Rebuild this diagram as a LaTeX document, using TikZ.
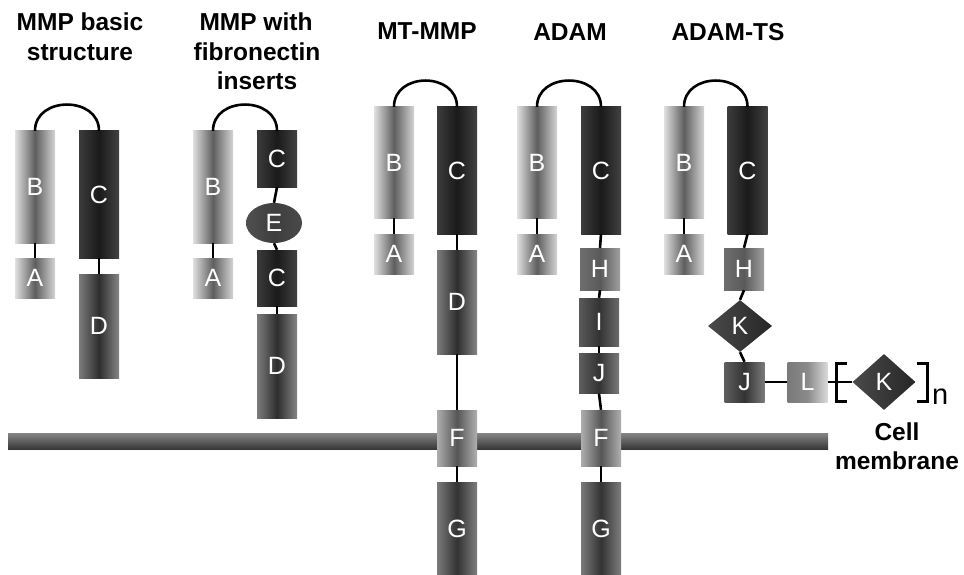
\documentclass[tikz,border=0pt]{standalone}
\usepackage{fontspec}
\setmainfont{Liberation Sans}
\usetikzlibrary{shapes.geometric}
% grey tones of the domain shadings (left edge / core / right edge)
\definecolor{bL}{HTML}{E0E0E0}\definecolor{bM}{HTML}{5E5E5E}\definecolor{bR}{HTML}{D4D4D4}
\definecolor{cL}{HTML}{3C3C3C}\definecolor{cM}{HTML}{1A1A1A}\definecolor{cR}{HTML}{424242}
\definecolor{dL}{HTML}{7C7C7C}\definecolor{dM}{HTML}{2E2E2E}\definecolor{dR}{HTML}{858585}
\definecolor{fL}{HTML}{ADADAD}\definecolor{fM}{HTML}{565656}\definecolor{fR}{HTML}{B0B0B0}
\definecolor{gL}{HTML}{7A7A7A}\definecolor{gM}{HTML}{333333}\definecolor{gR}{HTML}{7E7E7E}
\definecolor{hL}{HTML}{6E6E6E}\definecolor{hM}{HTML}{5A5A5A}\definecolor{hR}{HTML}{A0A0A0}
\definecolor{iL}{HTML}{5A5A5A}\definecolor{iM}{HTML}{333333}\definecolor{iR}{HTML}{6A6A6A}
\definecolor{jL}{HTML}{5E5E5E}\definecolor{jM}{HTML}{333333}\definecolor{jR}{HTML}{7A7A7A}
\definecolor{lL}{HTML}{7A7A7A}\definecolor{lM}{HTML}{8A8A8A}\definecolor{lR}{HTML}{DADADA}
\definecolor{kL}{HTML}{4A4A4A}\definecolor{kR}{HTML}{262626}
\definecolor{eL}{HTML}{505050}\definecolor{eM}{HTML}{3E3E3E}\definecolor{eR}{HTML}{4A4A4A}
\definecolor{memT}{HTML}{858585}\definecolor{memB}{HTML}{383838}
\begin{document}
\begin{tikzpicture}[x=1pt,y=-1pt,
  dom/.style={rectangle, inner sep=0pt, minimum width=40pt, text=white,
    font=\fontsize{25}{25}\selectfont},
  kdom/.style={diamond, inner sep=0pt, text=white, left color=kL, right color=kR,
    font=\fontsize{25}{25}\selectfont},
  edom/.style={ellipse, inner sep=0pt, minimum width=56pt, minimum height=40pt, text=white,
    left color=eL, right color=eR, middle color=eM, font=\fontsize{25}{25}\selectfont},
  shB/.style={left color=bL, right color=bR, middle color=bM},
  shC/.style={left color=cL, right color=cR, middle color=cM},
  shD/.style={left color=dL, right color=dR, middle color=dM},
  shF/.style={left color=fL, right color=fR, middle color=fM},
  shG/.style={left color=gL, right color=gR, middle color=gM},
  shH/.style={left color=hL, right color=hR, middle color=hM},
  shI/.style={left color=iL, right color=iR, middle color=iM},
  shJ/.style={left color=jL, right color=jR, middle color=jM},
  shL/.style={left color=lL, right color=lR, middle color=lM},
  link/.style={line width=2.6pt, black},
  hinge/.style={line width=2.6pt, black},
  title/.style={font=\bfseries\fontsize{24.5}{29}\selectfont, anchor=base, inner sep=0pt},
]
\useasboundingbox (0,0) rectangle (964,575);

% cell membrane
\node[rectangle, inner sep=0pt, minimum width=820pt, minimum height=16pt,
  top color=memT, bottom color=memB] (mem) at (418,441) {};

% titles
\node[title] (t1a) at (80,31) {MMP basic};
\node[title] (t1b) at (80,61) {structure};
\node[title] (t2a) at (256,31) {MMP with};
\node[title] (t2b) at (257,61) {fibronectin};
\node[title] (t2c) at (257,90) {inserts};
\node[title] (t3) at (427,40) {MT-MMP};
\node[title] (t4) at (570,41) {ADAM};
\node[title] (t5) at (728,41) {ADAM-TS};
\node[title] (t6a) at (897,440) {Cell};
\node[title] (t6b) at (897,469) {membrane};

% MMP basic structure
\node[dom, shB, minimum height=112pt] (b1) at (35,187) {B};
\node[dom, shB, minimum height=40pt] (a1) at (35,278) {A};
\node[dom, shC, minimum height=127pt] (c1) at (99,194.5) {C};
\node[dom, shD, minimum height=104pt] (d1) at (99,326) {D};

% MMP with fibronectin inserts
\node[dom, shB, minimum height=112pt] (b2) at (213,187) {B};
\node[dom, shB, minimum height=40pt] (a2) at (213,278) {A};
\node[dom, shC, minimum height=56pt] (c2a) at (277,159) {C};
\node[edom] (e2) at (274,223) {E};
\node[dom, shC, minimum height=56pt] (c2b) at (277,278) {C};
\node[dom, shD, minimum height=104pt] (d2) at (277,366) {D};

% MT-MMP
\node[dom, shB, minimum height=111pt] (b3) at (394,162.5) {B};
\node[dom, shB, minimum height=40pt] (a3) at (394,254) {A};
\node[dom, shC, minimum height=127pt] (c3) at (457,170.5) {C};
\node[dom, shD, minimum height=104pt] (d3) at (457,302) {D};
\node[dom, shF, minimum height=56pt] (f3) at (457,438) {F};
\node[dom, shG, minimum height=93pt] (g3) at (457,528.5) {G};

% ADAM
\node[dom, shB, minimum height=111pt] (b4) at (537,162.5) {B};
\node[dom, shB, minimum height=40pt] (a4) at (537,254) {A};
\node[dom, shC, minimum height=127pt] (c4) at (601,170.5) {C};
\node[dom, shH, minimum height=42pt] (h4) at (600,269) {H};
\node[dom, shI, minimum height=48pt] (i4) at (599,322) {I};
\node[dom, shJ, minimum height=40pt] (j4) at (599,373.5) {J};
\node[dom, shF, minimum height=56pt] (f4) at (601,438) {F};
\node[dom, shG, minimum height=93pt] (g4) at (601,528.5) {G};

% ADAM-TS
\node[dom, shB, minimum height=111pt] (b5) at (684,162.5) {B};
\node[dom, shB, minimum height=40pt] (a5) at (684,254) {A};
\node[dom, shC, minimum height=127pt] (c5) at (747.5,170.5) {C};
\node[dom, shH, minimum height=42pt] (h5) at (744,269) {H};
\node[kdom, minimum width=64pt, minimum height=52pt] (k5) at (740,326) {K};
\node[dom, shJ, minimum height=40pt] (j5) at (744.5,382) {J};
\node[dom, shL, minimum height=40pt] (l5) at (807.5,382) {L};
\node[kdom, minimum width=63pt, minimum height=56pt] (k6) at (884,382) {K};
\node[font=\fontsize{29}{29}\selectfont, anchor=base west, inner sep=0pt] (rep) at (932,404) {n};

% hinge loops joining B and C
\foreach \l/\r in {b1/c1, b2/c2a, b3/c3, b4/c4, b5/c5}
  \draw[hinge] (\l.north) .. controls +(0,-35) and +(0,-35) .. (\r.north);

% linkers between domains
\draw[link] (b1.south) -- (a1.north);
\draw[link] (c1.south) -- (d1.north);
\draw[link] (b2.south) -- (a2.north);
\draw[link] (c2a.south) -- (e2.north);
\draw[link] (e2.south) -- (c2b.north);
\draw[link] (c2b.south) -- (d2.north);
\draw[link] (b3.south) -- (a3.north);
\draw[link] (c3.south) -- (d3.north);
\draw[link] (d3.south) -- (f3.north);
\draw[link] (f3.south) -- (g3.north);
\draw[link] (b4.south) -- (a4.north);
\draw[link] (c4.south) -- (h4.north);
\draw[link] (h4.south) -- (i4.north);
\draw[link] (i4.south) -- (j4.north);
\draw[link] (j4.south) -- (f4.north);
\draw[link] (f4.south) -- (g4.north);
\draw[link] (b5.south) -- (a5.north);
\draw[link] (c5.south) -- (h5.north);
\draw[link] (h5.south) -- (k5.north);
\draw[link] (k5.south) -- (j5.north);
\draw[link] (j5.east) -- (l5.west);
\draw[link] (l5.east) -- (k6.west);

% repeat brackets round the last K
\draw[line width=3pt] (847,363.5) -- (836.5,363.5) -- (836.5,401.5) -- (847,401.5);
\draw[line width=3pt] (917,363.5) -- (927.5,363.5) -- (927.5,401.5) -- (917,401.5);
\end{tikzpicture}
\end{document}
